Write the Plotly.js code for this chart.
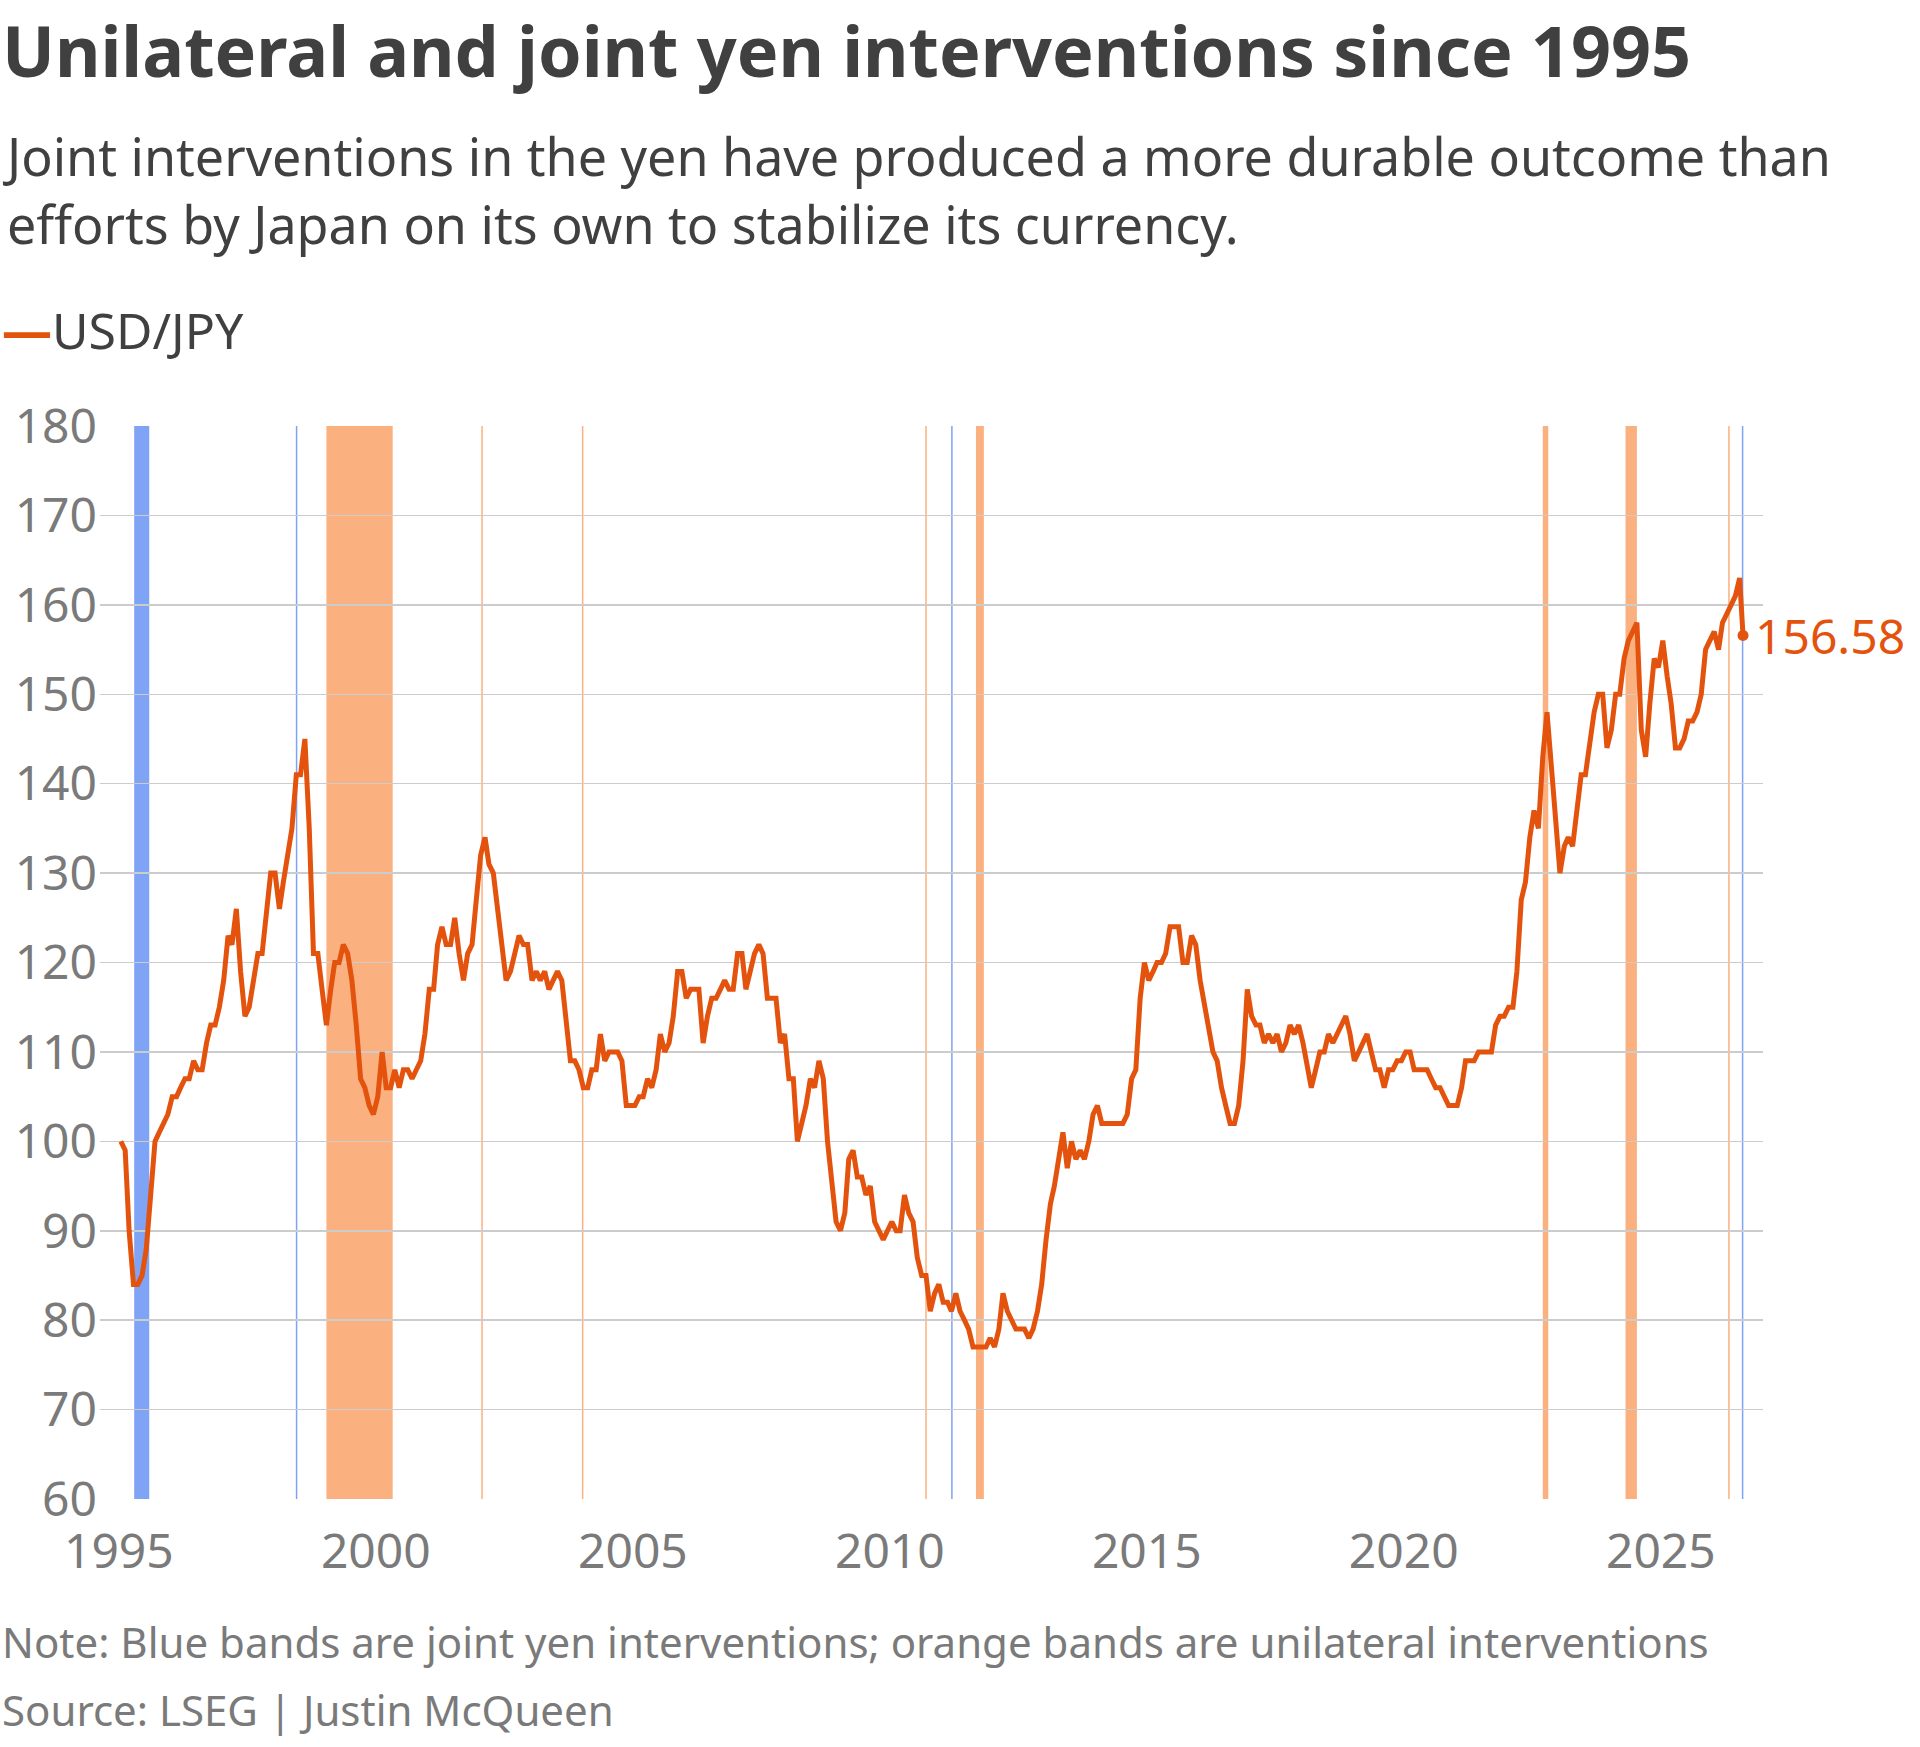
<!DOCTYPE html>
<html>
<head>
<meta charset="utf-8">
<script src="https://cdn.plot.ly/plotly-3.0.1.min.js"></script>
<style>body{margin:0;background:#fff}#myDiv{width:1920px;height:1747px}</style>
</head>
<body>
<div id="myDiv"></div>
<script>
// monthly USD/JPY, Jan 1995 onward
var usdjpy = [
  100,99,90,84,84,85,88,94,100,101,102,103,
  105,105,106,107,107,109,108,108,111,113,113,115,
  118,123,122,126,119,114,115,118,121,121,126,130,
  130,126,129,132,135,141,141,145,135,121,121,117,
  113,117,120,120,122,121,118,113,107,106,104,103,
  105,110,106,106,108,106,108,108,107,108,109,112,
  117,117,122,124,122,122,125,121,118,121,122,127,
  132,134,131,130,126,123,118,119,121,123,122,122,
  118,119,118,119,117,118,119,118,114,109,109,108,
  106,106,108,108,112,109,110,110,110,109,104,104,
  104,105,105,107,106,108,112,110,111,114,119,119,
  116,117,117,117,111,114,116,116,117,118,117,117,
  121,121,117,119,121,122,121,116,116,116,111,112,
  107,107,100,102,104,107,106,109,107,100,96,91,
  90,92,98,99,96,96,94,95,91,90,89,90,
  91,90,90,94,92,91,87,85,85,81,83,84,
  82,82,81,83,81,80,79,77,77,77,77,78,
  77,79,83,81,80,79,79,79,78,79,81,84,
  89,93,95,98,101,97,100,98,99,98,100,103,
  104,102,102,102,102,102,102,103,107,108,116,120,
  118,119,120,120,121,124,124,124,120,120,123,122,
  118,115,113,110,109,106,104,102,102,104,109,117,
  114,113,113,111,112,111,112,110,111,113,112,113,
  111,108,106,108,110,110,112,111,112,113,114,112,
  109,110,111,112,110,108,108,106,108,108,109,109,
  110,110,108,108,108,108,107,106,106,105,104,104,
  104,106,109,109,109,110,110,110,110,113,114,114,
  115,115,119,127,129,134,137,135,143,148,142,135,
  130,133,134,133,137,141,141,145,148,150,150,144,
  146,150,150,154,156,157,158,146,143,149,154,153,
  156,152,149,144,144,145,147,147,148,150,155,156,
  157,155,158,159,160,161,163
];
var lastDate = "2026-08-08";
var lastValue = 156.58;

// interventions: [start, end]
var jointBands = [["1995-04-20","1995-08-05"]];
var jointLines = ["1998-06-17","2011-03-18","2026-08-05"];
var soloBands = [["1999-01-15","2000-04-30"],["2011-09-05","2011-10-31"],["2022-09-15","2022-10-24"],["2024-04-25","2024-07-15"]];
var soloLines = ["2002-01-25","2004-01-10","2010-09-15","2026-04-30"];

var dates = [], vals = [];
usdjpy.forEach(function(v, i) {
  var y = 1995 + Math.floor(i / 12), m = i % 12 + 1;
  dates.push(y + "-" + (m < 10 ? "0" + m : m) + "-15");
  vals.push(v);
});
dates.push(lastDate); vals.push(lastValue);

var orange = "#e3530d", bandOrange = "#fbb07f", bandBlue = "#7fa3f5";
var shapes = [];
jointBands.forEach(function(b){ shapes.push({type:"rect",xref:"x",yref:"paper",x0:b[0],x1:b[1],y0:0,y1:1,fillcolor:bandBlue,line:{width:0},layer:"below"}); });
soloBands.forEach(function(b){ shapes.push({type:"rect",xref:"x",yref:"paper",x0:b[0],x1:b[1],y0:0,y1:1,fillcolor:bandOrange,line:{width:0},layer:"below"}); });
jointLines.forEach(function(d){ shapes.push({type:"line",xref:"x",yref:"paper",x0:d,x1:d,y0:0,y1:1,line:{color:bandBlue,width:1.5},layer:"below"}); });
soloLines.forEach(function(d){ shapes.push({type:"line",xref:"x",yref:"paper",x0:d,x1:d,y0:0,y1:1,line:{color:bandOrange,width:1.5},layer:"below"}); });

var data = [{
  x: dates, y: vals, type: "scatter", mode: "lines",
  line: {color: orange, width: 5}, hoverinfo: "skip"
}, {
  x: [lastDate], y: [lastValue], type: "scatter", mode: "markers",
  marker: {color: orange, size: 11}, hoverinfo: "skip"
}];

var txt = "#404040", gray = "#7a7a7a";
var layout = {
  width: 1920, height: 1747,
  margin: {l: 100, r: 157, t: 426, b: 248},
  showlegend: false,
  paper_bgcolor: "#fff", plot_bgcolor: "#fff",
  font: {family: "Noto Sans, Lato, sans-serif", color: gray},
  xaxis: {
    type: "date", range: ["1994-08-20", "2026-12-28"],
    tickvals: ["1995-01-01","2000-01-01","2005-01-01","2010-01-01","2015-01-01","2020-01-01","2025-01-01"],
    ticktext: ["1995","2000","2005","2010","2015","2020","2025"],
    showgrid: false, zeroline: false, showline: false,
    tickfont: {size: 48, color: gray}, ticklabelstandoff: 20
  },
  yaxis: {
    range: [60, 180], dtick: 10, gridcolor: "#cccccc", gridwidth: 1.5,
    zeroline: false, tickfont: {size: 48, color: gray}, ticklabelstandoff: 2
  },
  shapes: shapes,
  annotations: [
    {xref:"paper",yref:"paper",x:-0.06,y:1,yanchor:"bottom",xanchor:"left",yshift:326,align:"left",
     text:"<b>Unilateral and joint yen interventions since 1995</b>",showarrow:false,font:{size:70,color:txt}},
    {xref:"paper",yref:"paper",x:-0.06,y:1,yanchor:"bottom",xanchor:"left",yshift:165,align:"left",
     text:"Joint interventions in the yen have produced a more durable outcome than<br>efforts by Japan on its own to stabilize its currency.",showarrow:false,font:{size:52,color:txt}},
    {xref:"paper",yref:"paper",x:-0.06,y:1,yanchor:"bottom",xanchor:"left",yshift:60,align:"left",
     text:"<span style='color:"+orange+"'><b>\u2014</b></span>USD/JPY",showarrow:false,font:{size:50,color:txt}},
    {xref:"x",yref:"y",x:lastDate,y:lastValue,xanchor:"left",xshift:10,text:"156.58",showarrow:false,font:{size:48,color:orange}},
    {xref:"paper",yref:"paper",x:-0.06,y:0,yanchor:"top",xanchor:"left",yshift:-112,align:"left",
     text:"Note: Blue bands are joint yen interventions; orange bands are unilateral interventions",showarrow:false,font:{size:42,color:gray}},
    {xref:"paper",yref:"paper",x:-0.06,y:0,yanchor:"top",xanchor:"left",yshift:-180,align:"left",
     text:"Source: LSEG | Justin McQueen",showarrow:false,font:{size:42,color:gray}}
  ]
};

Plotly.newPlot("myDiv", data, layout, {displayModeBar: false, staticPlot: true});
</script>
</body>
</html>
